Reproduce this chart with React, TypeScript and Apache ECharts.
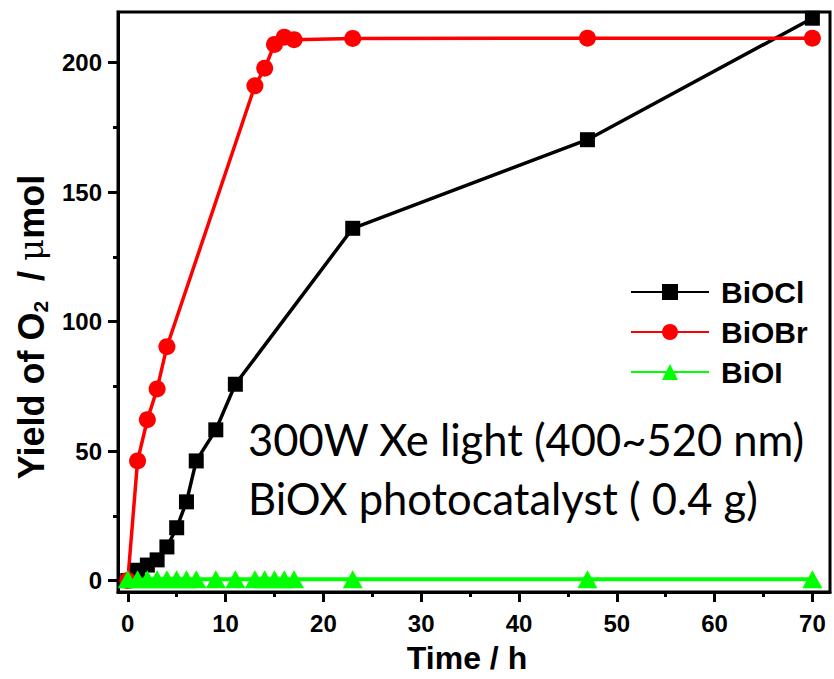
import React, { useEffect, useRef } from "react";
import * as echarts from "echarts";

// ---- data ----
const timeBiOCl = [0, 1, 2, 3, 4, 5, 6, 7, 9, 11, 23, 47, 70];
const yieldBiOCl = [0, 4, 6, 8, 13, 20.4, 30.4, 46.2, 58.2, 75.8, 136, 170.2, 217.1];

const timeBiOBr = [0, 1, 2, 3, 4, 13, 14, 15, 16, 17, 23, 47, 70];
const yieldBiOBr = [0, 46.2, 62.1, 74, 90.3, 191, 197.8, 207, 209.8, 208.8, 209.3, 209.4, 209.4];

const timeBiOI = [0, 1, 2, 3, 4, 5, 6, 7, 9, 11, 13, 14, 15, 16, 17, 23, 47, 70];
const yieldBiOI = [0.5, 0.5, 0.5, 0.5, 0.5, 0.5, 0.5, 0.5, 0.5, 0.5, 0.5, 0.5, 0.5, 0.5, 0.5, 0.5, 0.5, 0.5];

const xMajorTicks = [0, 10, 20, 30, 40, 50, 60, 70];
const xMinorTicks = [5, 15, 25, 35, 45, 55, 65];
const yMajorTicks = [0, 50, 100, 150, 200];
const yMinorTicks = [25, 75, 125, 175];

const seriesNames = ["BiOCl", "BiOBr", "BiOI"];
const annotationLines = ["300W Xe light (400~520 nm)", "BiOX photocatalyst ( 0.4 g)"];

const FONT = "'Liberation Sans', Arial, sans-serif";

function zip(xs: number[], ys: number[]) {
  return xs.map((x, i) => [x, ys[i]]);
}

export default function App() {
  const ref = useRef<HTMLDivElement>(null);
  useEffect(() => {
    if (!ref.current) return;
    const chart = echarts.init(ref.current, null, { renderer: "svg" });
    const xMin = -1;
    const xMax = 71.8;
    const yMin = -4.4;
    const yMax = 219.5;
    const axisBase = {
      type: "value" as const,
      splitLine: { show: false },
    };
    chart.setOption({
      animation: false,
      backgroundColor: "#ffffff",
      grid: {
        left: 118,
        right: 4,
        top: 12,
        bottom: 86,
        show: true,
        borderColor: "#000",
        borderWidth: 3,
        containLabel: false,
      },
      xAxis: [
        {
          ...axisBase,
          min: xMin,
          max: xMax,
          position: "bottom",
          axisLine: { show: true, onZero: false, lineStyle: { color: "#000", width: 3 } },
          axisTick: {
            show: true,
            inside: false,
            length: 10,
            customValues: xMajorTicks,
            lineStyle: { color: "#000", width: 3 },
          },
          axisLabel: {
            customValues: xMajorTicks,
            margin: 19,
            color: "#000",
            fontFamily: FONT,
            fontWeight: "bold",
            fontSize: 24,
          },
          name: "Time / h",
          nameLocation: "middle",
          nameGap: 50,
          nameTextStyle: {
            color: "#000",
            fontFamily: FONT,
            fontWeight: "bold",
            fontSize: 32,
            padding: [0, 14, 0, 0],
          },
        },
        {
          ...axisBase,
          min: xMin,
          max: xMax,
          position: "bottom",
          axisLine: { show: false, onZero: false },
          axisTick: {
            show: true,
            inside: false,
            length: 5,
            customValues: xMinorTicks,
            lineStyle: { color: "#000", width: 3 },
          },
          axisLabel: { show: false },
        },
      ],
      yAxis: [
        {
          ...axisBase,
          min: yMin,
          max: yMax,
          position: "left",
          axisLine: { show: true, onZero: false, lineStyle: { color: "#000", width: 3 } },
          axisTick: {
            show: true,
            inside: false,
            length: 10,
            customValues: yMajorTicks,
            lineStyle: { color: "#000", width: 3 },
          },
          axisLabel: {
            customValues: yMajorTicks,
            margin: 16,
            color: "#000",
            fontFamily: FONT,
            fontWeight: "bold",
            fontSize: 24,
          },
          name: "{a|Yield of O}{s|2}{a|  / }{m|μ}{a|mol}",
          nameLocation: "middle",
          nameGap: 66,
          nameRotate: 90,
          nameTextStyle: {
            color: "#000",
            padding: [0, 50, 0, 0],
            rich: {
              a: { fontFamily: FONT, fontWeight: "bold", fontSize: 36, color: "#000", lineHeight: 40 },
              s: {
                fontFamily: FONT,
                fontWeight: "bold",
                fontSize: 21,
                color: "#000",
                verticalAlign: "bottom",
                lineHeight: 25,
              },
              m: { fontFamily: "'DejaVu Serif', serif", fontWeight: "normal", fontSize: 34, color: "#000", lineHeight: 40 },
            },
          },
        },
        {
          ...axisBase,
          min: yMin,
          max: yMax,
          position: "left",
          axisLine: { show: false, onZero: false },
          axisTick: {
            show: true,
            inside: false,
            length: 5,
            customValues: yMinorTicks,
            lineStyle: { color: "#000", width: 3 },
          },
          axisLabel: { show: false },
        },
      ],
      legend: {
        orient: "vertical",
        left: 625,
        top: 272,
        itemWidth: 78,
        itemHeight: 20,
        itemGap: 10,
        data: seriesNames,
        textStyle: {
          color: "#000",
          fontFamily: FONT,
          fontWeight: "bold",
          fontSize: 30,
          lineHeight: 30,
          padding: [0, 0, 0, 7],
        },
      },
      graphic: annotationLines.map((t, i) => ({
        type: "text",
        x: 248,
        y: 439 + i * 59,
        silent: true,
        style: {
          text: t,
          fill: "#000",
          fontFamily: "Lato, 'Open Sans', sans-serif",
          fontSize: 43.5,
          align: "left",
          verticalAlign: "middle",
        },
      })),
      series: [
        {
          name: seriesNames[0],
          type: "line",
          data: zip(timeBiOCl, yieldBiOCl),
          symbol: "rect",
          symbolSize: 15,
          lineStyle: { color: "#000", width: 3.5 },
          itemStyle: { color: "#000" },
        },
        {
          name: seriesNames[1],
          type: "line",
          data: zip(timeBiOBr, yieldBiOBr),
          symbol: "circle",
          symbolSize: 17,
          lineStyle: { color: "#ff0000", width: 3.5 },
          itemStyle: { color: "#ff0000" },
        },
        {
          name: seriesNames[2],
          type: "line",
          data: zip(timeBiOI, yieldBiOI),
          symbol: "triangle",
          symbolSize: [20, 18],
          lineStyle: { color: "#00ff00", width: 4 },
          itemStyle: { color: "#00ff00" },
        },
      ],
    });
    return () => chart.dispose();
  }, []);
  return (
    <div
      ref={ref}
      style={{ position: "absolute", left: 0, top: 0, width: 834, height: 679 }}
    />
  );
}
